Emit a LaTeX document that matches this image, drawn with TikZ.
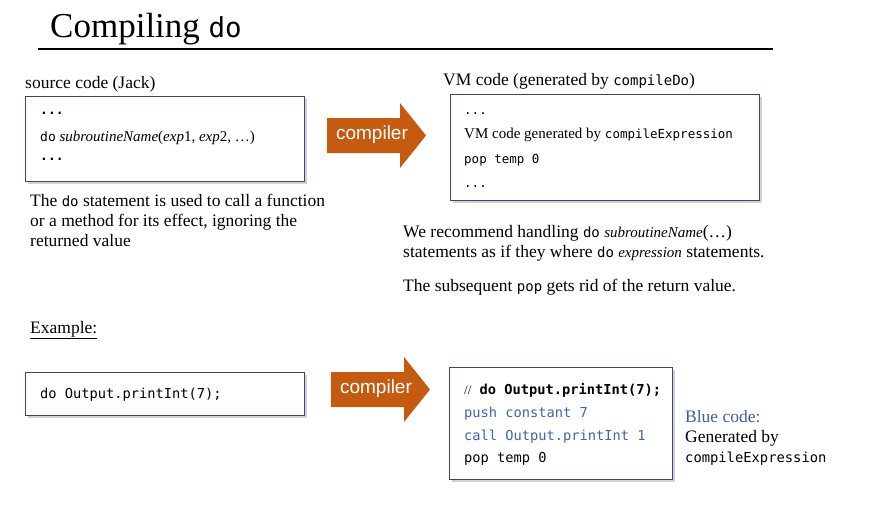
\documentclass[tikz,border=0pt]{standalone}
\usepackage{fontspec}
\setmainfont{Liberation Serif}
\setsansfont{Liberation Sans}
\setmonofont{DejaVu Sans Mono}
\usetikzlibrary{shadows}
\definecolor{boxline}{HTML}{36457A}
\definecolor{arroworange}{HTML}{C55A11}
\definecolor{codeblue}{HTML}{3D65AE}
\definecolor{noteblue}{HTML}{3F5EA0}
\newcommand{\fs}[1]{\fontsize{#1}{#1}\selectfont}
\tikzset{
  txt/.style={anchor=base west, inner sep=0pt, font=\fs{17.5}},
  codeline/.style={anchor=base west, inner sep=0pt},
  codebox/.style={draw=boxline, line width=1pt, fill=white,
    drop shadow={shadow xshift=2.5pt, shadow yshift=-2.5pt, opacity=0.3, fill=black!60}},
  bigarrow/.style={fill=arroworange, draw=none},
  arrowlabel/.style={text=white, inner sep=0pt, font=\sffamily\fs{19}}
}
\begin{document}
\begin{tikzpicture}[x=1pt,y=-1pt]
\useasboundingbox (0,0) rectangle (877,515);

% title and rule
\node[anchor=base west, inner sep=0pt] (title) at (50,37)
  {\fs{35}Compiling {\ttfamily\fs{27.5}do}};
\draw[line width=1.6pt] (38,49) -- (773,49);

% source side
\node[txt] (srclabel) at (25,88) {source code (Jack)};
\path[codebox] (25,96) rectangle (304,181);
\node[codeline, font=\ttfamily\bfseries\fs{13}] (s1) at (40,114) {...};
\node[codeline, font=\fs{15}] (s2) at (40,141)
  {{\ttfamily\fs{13}do} \textit{subroutineName}({\itshape exp}1, {\itshape exp}2, …)};
\node[codeline, font=\ttfamily\bfseries\fs{13}] (s3) at (40,160) {...};

% compiler arrow (top)
\path[bigarrow] (327,118) -- (400,118) -- (400,103) -- (426,135.5)
  -- (400,168) -- (400,153) -- (327,153) -- cycle;
\node[arrowlabel] (comp1) at (372,135) {compiler};

% VM side
\node[txt] (vmlabel) at (443,85)
  {VM code (generated by {\ttfamily\fs{14}compileDo})};
\path[codebox] (450,94) rectangle (759,200);
\node[codeline, font=\ttfamily\fs{12.5}] (v1) at (464,114) {...};
\node[codeline, font=\fs{15}] (v2) at (464,138)
  {VM code generated by {\ttfamily\fs{12.5}compileExpression}};
\node[codeline, font=\ttfamily\fs{12.5}] (v3) at (464,163) {pop temp 0};
\node[codeline, font=\ttfamily\fs{12.5}] (v4) at (464,187) {...};

% explanations
\node[txt] (expl1a) at (30,206)
  {The {\ttfamily\fs{14}do} statement is used to call a function};
\node[txt] (expl1b) at (30,226) {or a method for its effect, ignoring the};
\node[txt] (expl1c) at (30,246) {returned value};
\node[txt] (expl2a) at (403,237)
  {We recommend handling {\ttfamily\fs{14}do} {\itshape\fs{15}subroutineName}(…)};
\node[txt] (expl2b) at (403,257)
  {statements as if they where {\ttfamily\fs{14}do} {\itshape\fs{15}expression} statements.};
\node[txt] (expl3) at (403,291)
  {The subsequent {\ttfamily\fs{14}pop} gets rid of the return value.};

% example
\node[txt] (example) at (30,333) {\underline{Example:}};
\path[codebox] (25,372) rectangle (304,415);
\node[codeline, font=\ttfamily\fs{13.7}] (e1) at (40,398) {do Output.printInt(7);};

\path[bigarrow] (331,372) -- (404,372) -- (404,357) -- (430,389.5)
  -- (404,422) -- (404,407) -- (331,407) -- cycle;
\node[arrowlabel] (comp2) at (376,389) {compiler};

\path[codebox] (449,367) rectangle (672,479);
\node[codeline, font=\ttfamily\fs{13.7}] (r1) at (464,394)
  {{\rmfamily\fs{13}//} \textbf{do Output.printInt(7);}};
\node[codeline, font=\ttfamily\fs{13.7}, text=codeblue] (r2) at (464,417) {push constant 7};
\node[codeline, font=\ttfamily\fs{13.7}, text=codeblue] (r3) at (464,440) {call Output.printInt 1};
\node[codeline, font=\ttfamily\fs{13.7}] (r4) at (464,462) {pop temp 0};

\node[txt, text=noteblue] (note1) at (685,422) {Blue code:};
\node[txt] (note2) at (685,442) {Generated by};
\node[codeline, font=\ttfamily\fs{13.8}] (note3) at (685,462) {compileExpression};
\end{tikzpicture}
\end{document}
